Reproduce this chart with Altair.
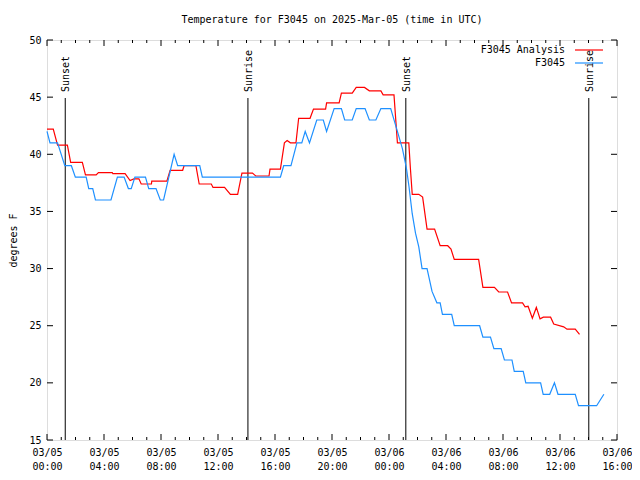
import json
import altair as alt
import pandas as pd

# ---- data (hours since 2025-03-05 00:00 UTC, degrees F) ----
blue_h = [0.00, 0.21, 0.74, 1.25, 1.71, 1.99, 2.75, 2.93, 3.21, 3.40, 4.49, 4.94, 5.41, 5.71, 5.91,
          6.17, 6.91, 7.14, 7.65, 7.95, 8.18, 8.92, 9.17, 10.72, 10.90, 16.38, 16.61, 17.12, 17.54,
          17.88, 18.12, 18.42, 18.93, 19.39, 19.62, 20.15, 20.66, 20.89, 21.42, 21.70, 22.32, 22.62,
          23.08, 23.43, 24.12, 24.59, 24.94, 25.22, 25.40, 25.63, 25.86, 26.09, 26.32, 26.67, 27.02,
          27.36, 27.59, 27.75, 28.40, 28.58, 30.36, 30.59, 31.12, 31.36, 31.87, 32.10, 32.63, 32.79,
          33.42, 33.60, 34.64, 34.82, 35.28, 35.61, 35.86, 37.07, 37.30, 38.57, 39.08]
blue_v = [42, 41, 41, 39, 39, 38, 38, 37, 37, 36, 36, 38, 38, 37, 37,
          38, 38, 37, 37, 36, 36, 40, 39, 39, 38, 38, 39, 39, 41,
          41, 42, 41, 43, 43, 42, 44, 44, 43, 43, 44, 44, 43,
          43, 44, 44, 42, 40.5, 38.8, 37.2, 34.8, 33.1, 31.9, 30, 30, 28,
          27, 27, 26, 26, 25, 25, 24, 24, 23, 23, 22, 22, 21,
          21, 20, 20, 19, 19, 20, 19, 19, 18, 18, 19]

red_h = [0.00, 0.44, 0.74, 1.43, 1.66, 2.48, 2.70, 3.45, 3.61, 4.58, 4.62, 5.48, 5.83, 6.10, 6.45,
         6.61, 7.33, 7.35, 8.41, 8.64, 9.52, 9.62, 10.45, 10.68, 11.53, 11.65, 12.46, 12.87, 13.38,
         13.68, 14.42, 14.65, 15.58, 15.65, 16.38, 16.66, 16.85, 17.08, 17.47, 17.66, 18.46, 18.70,
         19.55, 19.62, 20.50, 20.66, 21.42, 21.70, 22.28, 22.62, 23.43, 23.59, 24.35, 24.59, 25.39,
         25.50, 25.63, 26.09, 26.36, 26.67, 27.20, 27.59, 28.12, 28.35, 28.58, 30.29, 30.59, 31.40,
         31.70, 32.32, 32.60, 33.37, 33.55, 33.76, 34.06, 34.34, 34.60, 34.83, 35.34, 35.56, 36.26,
         36.49, 37.07, 37.37]
red_v = [42.2, 42.2, 40.8, 40.8, 39.3, 39.3, 38.2, 38.2, 38.4, 38.4, 38.3, 38.3, 37.7, 37.85, 37.85,
         37.4, 37.4, 37.65, 37.65, 38.6, 38.6, 39.0, 39.0, 37.4, 37.4, 37.1, 37.1, 36.5, 36.5,
         38.35, 38.35, 38.1, 38.1, 38.7, 38.7, 41.0, 41.2, 41.0, 41.0, 43.15, 43.15, 43.95,
         43.95, 44.5, 44.5, 45.35, 45.35, 45.85, 45.85, 45.55, 45.55, 45.2, 45.2, 41.0, 41.0,
         38.8, 36.5, 36.5, 36.25, 33.45, 33.45, 32.0, 32.0, 31.7, 30.8, 30.8, 28.35, 28.35,
         27.95, 27.95, 27.0, 27.0, 26.65, 26.7, 25.65, 26.6, 25.6, 25.75, 25.75, 25.15, 24.9,
         24.7, 24.7, 24.25]

sun_h = [1.28, 14.1, 25.18, 38.02]
sun_label = ["Sunset", "Sunrise", "Sunset", "Sunrise"]

x_major = [0, 4, 8, 12, 16, 20, 24, 28, 32, 36, 40]
x_minor = [h for h in range(0, 41) if h % 4 != 0]
x_dates = ["03/05", "03/05", "03/05", "03/05", "03/05", "03/05", "03/06", "03/06", "03/06", "03/06", "03/06"]
x_times = ["00:00", "04:00", "08:00", "12:00", "16:00", "20:00", "00:00", "04:00", "08:00", "12:00", "16:00"]
y_major = [15, 20, 25, 30, 35, 40, 45, 50]

series_names = ["F3045 Analysis", "F3045"]
series_colors = ["#ff0000", "#1e90ff"]

TITLE = "Temperature for F3045 on 2025-Mar-05 (time in UTC)"
FONT = "DejaVu Sans Mono"
W, H = 570, 400

# ---- scales / axes ----
xs = alt.Scale(domain=[0, 40], nice=False, zero=False)
ys = alt.Scale(domain=[15, 50], nice=False, zero=False)

label_expr = (f"[{json.dumps(x_dates)}[round(datum.value/4)], "
              f"{json.dumps(x_times)}[round(datum.value/4)]]")
xaxis = alt.Axis(values=x_major, labelExpr=label_expr, ticks=False, domain=False, grid=False,
                 title=None, labelFont=FONT, labelFontSize=10, labelColor="black",
                 labelPadding=7, labelLineHeight=14, labelBaseline="top", labelFlush=False)
yaxis = alt.Axis(values=y_major, ticks=False, domain=False, grid=False, title="degrees F",
                 labelFont=FONT, labelFontSize=10, labelColor="black", labelPadding=6,
                 titleFont=FONT, titleFontSize=10, titleFontWeight="normal", titleColor="black",
                 titleAngle=270, titleX=-34, titleY=H / 2, titleAlign="center", titleBaseline="middle")

X = alt.X("h:Q", scale=xs, axis=xaxis)
Y = alt.Y("v:Q", scale=ys, axis=yaxis)

blue_df = pd.DataFrame({"h": blue_h, "v": blue_v})
red_df = pd.DataFrame({"h": red_h, "v": red_v})
sun_df = pd.DataFrame({"h": sun_h, "label": sun_label})
major_df = pd.DataFrame({"h": x_major})
minor_df = pd.DataFrame({"h": x_minor})
yt_df = pd.DataFrame({"v": y_major})

red_line = alt.Chart(red_df).mark_line(color=series_colors[0], strokeWidth=1.2, interpolate="linear").encode(x=X, y=Y)
blue_line = alt.Chart(blue_df).mark_line(color=series_colors[1], strokeWidth=1.2, interpolate="linear").encode(x=X, y=Y)

sun_rule = alt.Chart(sun_df).mark_rule(color="black", strokeWidth=1).encode(
    x=X, y=alt.value(58), y2=alt.value(H))
sun_text = alt.Chart(sun_df).mark_text(angle=270, align="left", baseline="middle", font=FONT,
                                       fontSize=10, color="black", dy=1).encode(
    x=X, y=alt.value(52), text="label:N")

tick_layers = []
for df, ln in [(major_df, 6), (minor_df, 3)]:
    tick_layers.append(alt.Chart(df).mark_rule(color="black", strokeWidth=1).encode(
        x=X, y=alt.value(0), y2=alt.value(ln)))
    tick_layers.append(alt.Chart(df).mark_rule(color="black", strokeWidth=1).encode(
        x=X, y=alt.value(H), y2=alt.value(H - ln)))
tick_layers.append(alt.Chart(yt_df).mark_rule(color="black", strokeWidth=1).encode(
    y=Y, x=alt.value(0), x2=alt.value(6)))
tick_layers.append(alt.Chart(yt_df).mark_rule(color="black", strokeWidth=1).encode(
    y=Y, x=alt.value(W), x2=alt.value(W - 6)))

legend_layers = []
for i, (name, col) in enumerate(zip(series_names, series_colors)):
    ldf = pd.DataFrame({"name": [name]})
    yy = 10 + 13 * i
    legend_layers.append(alt.Chart(ldf).mark_text(align="right", baseline="middle", font=FONT,
                                                  fontSize=10, color="black").encode(
        text="name:N", x=alt.value(W - 52), y=alt.value(yy)))
    legend_layers.append(alt.Chart(ldf).mark_rule(color=col, strokeWidth=1.2).encode(
        x=alt.value(W - 42), x2=alt.value(W - 14), y=alt.value(yy)))

chart = alt.layer(
    *tick_layers, sun_rule, sun_text, red_line, blue_line, *legend_layers
).properties(
    width=W, height=H,
    title=alt.TitleParams(TITLE, font=FONT, fontSize=10, fontWeight="normal", color="black",
                          anchor="middle", offset=10),
    autosize=alt.AutoSizeParams(type="none"),
    padding={"left": 39, "top": 32, "right": 15, "bottom": 32},
).configure_view(stroke="black", strokeWidth=1).configure(background="white")

chart.save("out.html", embed_options={"renderer": "svg", "actions": False})
